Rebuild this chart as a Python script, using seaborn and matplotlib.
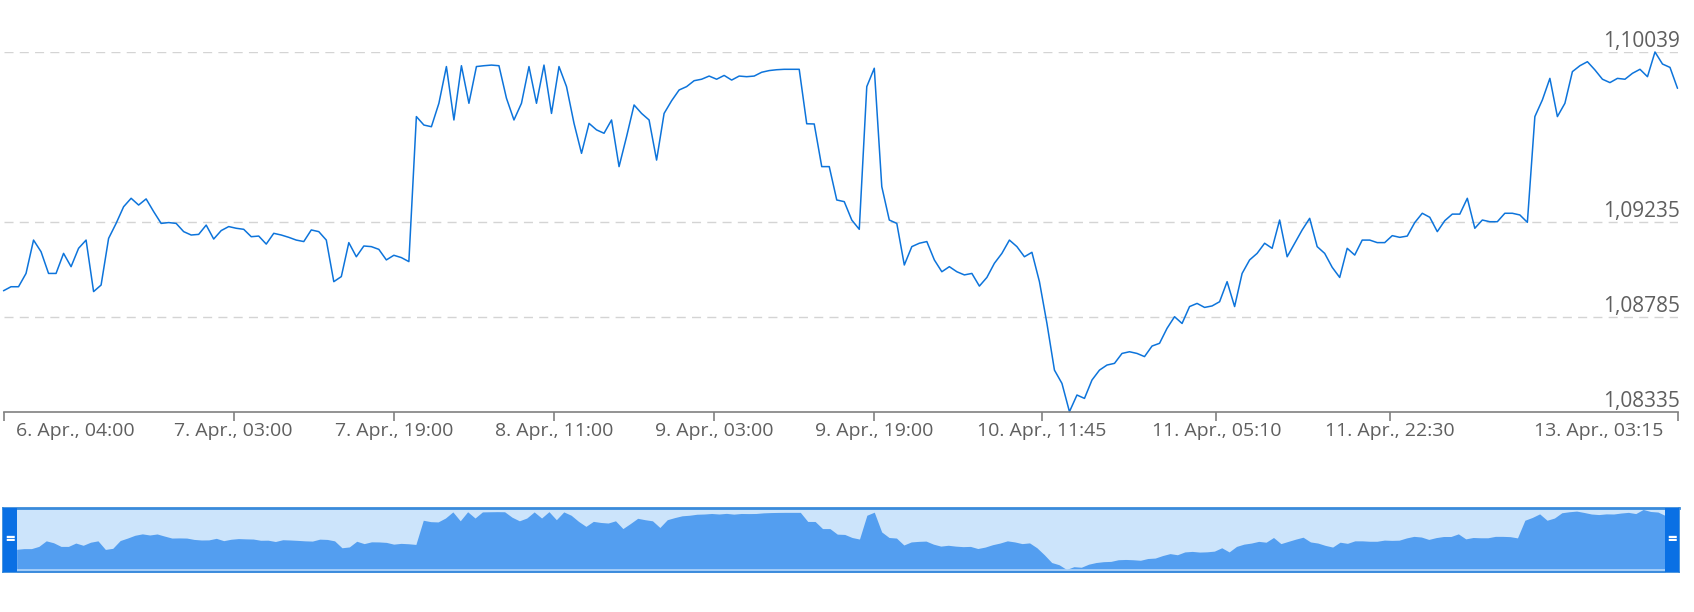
import pandas as pd
import seaborn as sns
import matplotlib
matplotlib.use("Agg")
import matplotlib.pyplot as plt
import matplotlib.transforms as mtransforms
from matplotlib.patches import Rectangle

# EUR/USD price, one reading every 45 minutes from 6. Apr. 04:00 to 13. Apr. 03:15
close_part1 = [1.08908, 1.08927, 1.08927, 1.08990, 1.09148, 1.09093, 1.08990, 1.08990,
               1.09085, 1.09022, 1.09109, 1.09148, 1.08904, 1.08935, 1.09156, 1.09227,
               1.09306, 1.09346, 1.09314, 1.09343, 1.09283, 1.09227, 1.09231, 1.09227,
               1.09188, 1.09172, 1.09175, 1.09219, 1.09153, 1.09193, 1.09212, 1.09204,
               1.09199, 1.09164, 1.09167, 1.09129, 1.09180, 1.09172, 1.09161, 1.09148,
               1.09141, 1.09196, 1.09188, 1.09148, 1.08951, 1.08975, 1.09136, 1.09069,
               1.09120, 1.09117, 1.09104, 1.09054, 1.09076, 1.09065, 1.09046, 1.09733]
close_part2 = [1.09693, 1.09685, 1.09796, 1.09970, 1.09717, 1.09974, 1.09796, 1.09970,
               1.09974, 1.09977, 1.09974, 1.09820, 1.09717, 1.09796, 1.09970, 1.09796,
               1.09977, 1.09748, 1.09970, 1.09875, 1.09701, 1.09559, 1.09701, 1.09670,
               1.09654, 1.09717, 1.09496, 1.09638, 1.09788, 1.09748, 1.09717, 1.09527,
               1.09748, 1.09808, 1.09859, 1.09875, 1.09903, 1.09910, 1.09925, 1.09910,
               1.09928, 1.09906, 1.09925, 1.09922, 1.09925, 1.09943, 1.09951, 1.09955,
               1.09957, 1.09957, 1.09957, 1.09699, 1.09698, 1.09496, 1.09496, 1.09338]
close_part3 = [1.09330, 1.09243, 1.09199, 1.09875, 1.09962, 1.09401, 1.09243, 1.09227,
               1.09030, 1.09117, 1.09133, 1.09141, 1.09054, 1.08998, 1.09022, 1.08998,
               1.08983, 1.08990, 1.08930, 1.08971, 1.09038, 1.09085, 1.09148, 1.09117,
               1.09069, 1.09090, 1.08951, 1.08753, 1.08532, 1.08469, 1.08335, 1.08414,
               1.08398, 1.08485, 1.08532, 1.08556, 1.08564, 1.08611, 1.08619, 1.08611,
               1.08596, 1.08646, 1.08659, 1.08730, 1.08785, 1.08753, 1.08833, 1.08848,
               1.08829, 1.08836, 1.08856, 1.08951, 1.08833, 1.08990, 1.09054, 1.09085]
close_part4 = [1.09133, 1.09109, 1.09243, 1.09069, 1.09133, 1.09196, 1.09251, 1.09117,
               1.09085, 1.09019, 1.08971, 1.09109, 1.09077, 1.09148, 1.09148, 1.09136,
               1.09136, 1.09169, 1.09161, 1.09167, 1.09231, 1.09275, 1.09256, 1.09188,
               1.09240, 1.09271, 1.09271, 1.09346, 1.09204, 1.09243, 1.09235, 1.09235,
               1.09275, 1.09275, 1.09267, 1.09232, 1.09733, 1.09812, 1.09914, 1.09733,
               1.09796, 1.09946, 1.09974, 1.09993, 1.09954, 1.09910, 1.09894, 1.09914,
               1.09910, 1.09938, 1.09957, 1.09922, 1.10039, 1.09982, 1.09966, 1.09867]

start_time = "2020-04-06 04:00"
step = "45min"

tick_times = ["2020-04-06 04:00", "2020-04-07 03:00", "2020-04-07 19:00", "2020-04-08 11:00",
              "2020-04-09 03:00", "2020-04-09 19:00", "2020-04-10 11:45", "2020-04-11 05:10",
              "2020-04-11 22:30", "2020-04-13 03:15"]
tick_labels = ["6. Apr., 04:00", "7. Apr., 03:00", "7. Apr., 19:00", "8. Apr., 11:00",
               "9. Apr., 03:00", "9. Apr., 19:00", "10. Apr., 11:45", "11. Apr., 05:10",
               "11. Apr., 22:30", "13. Apr., 03:15"]
y_ticks = [1.08335, 1.08785, 1.09235, 1.10039]

LINE = "#0d74db"
TEXT = "#5f5f5f"
AXIS = "#808080"

prices = close_part1 + close_part2 + close_part3 + close_part4
times = pd.date_range(start_time, periods=len(prices), freq=step)
df = pd.DataFrame({"time": times, "price": prices})

sns.set_style("white")
plt.rcParams['font.family'] = ['Open Sans', 'DejaVu Sans']

fig = plt.figure(figsize=(16.94, 6.12), dpi=100)

# main chart
ax = fig.add_axes([0.00207, 0.32729, 0.98819, 0.58775])
sns.lineplot(data=df, x="time", y="price", ax=ax, color=LINE, linewidth=1.1)
for ln in ax.lines:
    ln.set_clip_on(False)
ax.set_xlim(times[0], times[-1])
ax.set_ylim(y_ticks[0], y_ticks[-1])
for y in y_ticks[1:]:
    ax.axhline(y, color="#d4d4d4", lw=1.0, dashes=(6.5, 4.5), zorder=0)

sns.despine(ax=ax, left=True)
ax.spines["bottom"].set_color(AXIS)
ax.spines["bottom"].set_linewidth(1.2)
ax.set_yticks([])
ax.set_xlabel("")
ax.set_ylabel("")

ax.set_xticks(pd.to_datetime(tick_times))
ax.set_xticklabels(tick_labels)
ax.tick_params(axis="x", bottom=True, length=6.2, width=1.2, color=AXIS,
               labelcolor=TEXT, labelsize=14, pad=1.5)
xlabels = ax.get_xticklabels()
xlabels[0].set_ha("left")
xlabels[0].set_transform(xlabels[0].get_transform()
                         + mtransforms.ScaledTranslation(0.125, 0, fig.dpi_scale_trans))
xlabels[-1].set_ha("right")
xlabels[-1].set_transform(xlabels[-1].get_transform()
                          + mtransforms.ScaledTranslation(-0.14, 0, fig.dpi_scale_trans))

blend = mtransforms.blended_transform_factory(ax.transAxes, ax.transData)
ylab_trans = mtransforms.offset_copy(blend, fig=fig, x=2.5, y=5, units="dots")
for y in y_ticks:
    ax.text(1.0, y, f"{y:.5f}".replace(".", ","), transform=ylab_trans,
            ha="right", va="baseline", fontsize=15, color=TEXT, clip_on=False)

# navigator
nav = fig.add_axes([0.00195, 0.0649, 0.98902, 0.1055])
nav.set_facecolor("#cce4fb")
lo, hi = min(prices), max(prices)
span = times[-1] - times[0]
nav.set_xlim(times[0] - span * 0.0081, times[-1] + span * 0.0081)
nav.set_ylim(lo - 0.0008, hi + 0.0005)
nav.fill_between(times, prices, lo - 0.0008, color="#539ef0", lw=0)
nav.plot([0, 1], [0.035, 0.035], transform=nav.transAxes, color="#b3d6fa", lw=1.2)
nav.set_xticks([])
nav.set_yticks([])
for side, sp in nav.spines.items():
    sp.set_visible(True)
    sp.set_color("#3a8bdb")
    sp.set_linewidth(2.0 if side == "top" else 1.3)
for x0 in (0.0, 0.992):
    nav.add_patch(Rectangle((x0, 0), 0.008, 1, transform=nav.transAxes,
                            color="#0a70e4", lw=0, zorder=5))
    nav.text(x0 + 0.004, 0.5, "=", transform=nav.transAxes, ha="center", va="center",
             color="white", fontsize=12, fontweight="bold", zorder=6)

fig.savefig("out.png", dpi=100)
